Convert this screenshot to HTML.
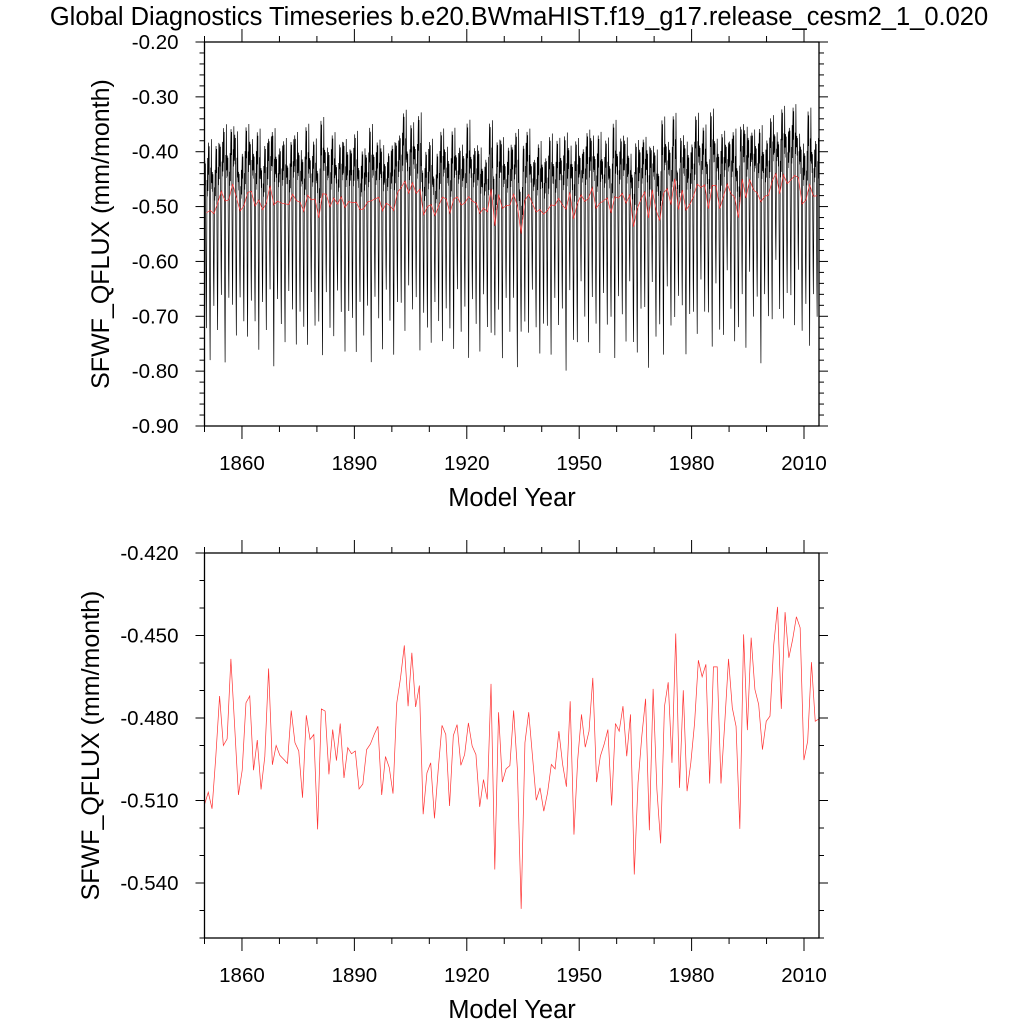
<!DOCTYPE html>
<html><head><meta charset="utf-8"><style>
body{margin:0;background:#fff;}
svg{display:block;font-family:"Liberation Sans",sans-serif;}
</style></head><body>
<svg id="chart" width="1024" height="1024" viewBox="0 0 1024 1024" xmlns="http://www.w3.org/2000/svg">
<text x="519" y="25" font-size="25.5" text-anchor="middle">Global Diagnostics Timeseries b.e20.BWmaHIST.f19_g17.release_cesm2_1_0.020</text>
<g id="top"></g>
<g id="bot"></g>
</svg>
<script>
const annualValues=[-0.5115,-0.507,-0.513,-0.494,-0.472,-0.490,-0.4876,-0.4585,-0.483,-0.508,-0.499,-0.4745,-0.472,-0.499,-0.488,-0.506,-0.494,-0.462,-0.497,-0.490,-0.4936,-0.495,-0.4965,-0.4773,-0.489,-0.492,-0.509,-0.479,-0.4878,-0.486,-0.5205,-0.4767,-0.4775,-0.5005,-0.4842,-0.4955,-0.482,-0.5018,-0.4908,-0.493,-0.492,-0.5058,-0.504,-0.4915,-0.4895,-0.486,-0.483,-0.508,-0.494,-0.498,-0.5075,-0.4745,-0.4654,-0.4536,-0.4757,-0.4563,-0.476,-0.4682,-0.515,-0.500,-0.4963,-0.5165,-0.4987,-0.4827,-0.486,-0.512,-0.4864,-0.4824,-0.4972,-0.4933,-0.4818,-0.4902,-0.4933,-0.5123,-0.5024,-0.5096,-0.4676,-0.5351,-0.4779,-0.5033,-0.4985,-0.4973,-0.4773,-0.4987,-0.5494,-0.489,-0.4779,-0.4939,-0.5099,-0.5054,-0.5139,-0.5072,-0.4969,-0.4985,-0.4848,-0.4969,-0.505,-0.4739,-0.5224,-0.4951,-0.4787,-0.4906,-0.4848,-0.4654,-0.5033,-0.4939,-0.4896,-0.4842,-0.5118,-0.482,-0.4848,-0.4757,-0.4939,-0.4787,-0.5369,-0.5036,-0.4866,-0.473,-0.5208,-0.4694,-0.506,-0.5256,-0.4759,-0.467,-0.4963,-0.4493,-0.5054,-0.4699,-0.5066,-0.4963,-0.4818,-0.459,-0.465,-0.4605,-0.5038,-0.4614,-0.4614,-0.5038,-0.4818,-0.4585,-0.4763,-0.483,-0.5203,-0.4496,-0.4844,-0.4508,-0.4696,-0.4751,-0.4915,-0.4812,-0.4793,-0.4533,-0.4396,-0.4767,-0.4415,-0.4581,-0.4515,-0.4432,-0.4472,-0.4953,-0.4884,-0.4597,-0.4812,-0.4803];
const seasonalCycle=[0.07,0.095,0.05,0.09,-0.05,-0.15,-0.21,-0.09,0.06,0.03,0.1,0.04];
const seasonalScale=[1.0,1.3,0.8,1.1,0.9,1.4,0.85,1.05,1.2,0.75,1.0,1.25,0.95];
const xTickLabels=[1860,1890,1920,1950,1980,2010];
const topYTicks=[-0.2,-0.3,-0.4,-0.5,-0.6,-0.7,-0.8,-0.9];
const botYTicks=[-0.42,-0.45,-0.48,-0.51,-0.54];
const startYear=1850;

const NS="http://www.w3.org/2000/svg";
function mk(p,tag,at){const e=document.createElementNS(NS,tag);for(const k in at)e.setAttribute(k,at[k]);p.appendChild(e);return e;}
const L=204.5,R=819;
const nY=annualValues.length;
const x0=startYear, x1=startYear+nY;
function xs(t){return L+(t-x0)/(x1-x0)*(R-L);}

function panel(g,T,B,ymax,ymin,yticks,minorStep,dec,monthly){
  const ys=v=>T+(ymax-v)/(ymax-ymin)*(B-T);
  if(monthly){
    let d="";
    for(let i=0;i<nY;i++){const sc=seasonalScale[i%seasonalScale.length];
      for(let m=0;m<12;m++){const v=annualValues[i]+seasonalCycle[m]*sc;
        d+=(d?"L":"M")+xs(startYear+i+m/12).toFixed(2)+","+ys(v).toFixed(2);}}
    const p=mk(g,"path",{d:d,fill:"none",stroke:"#000","stroke-width":"0.7"});
    
    
  }
  let d2="";
  for(let i=0;i<nY;i++){const t=monthly?startYear+i+0.5:startYear+i*(nY)/(nY-1);
    d2+=(d2?"L":"M")+xs(t).toFixed(2)+","+ys(annualValues[i]).toFixed(2);}
  const p2=mk(g,"path",{d:d2,fill:"none",stroke:"#f33","stroke-width":"0.7"});
  
  
  const f=mk(g,"rect",{x:L,y:T,width:R-L,height:B-T,fill:"none",stroke:"#000","stroke-width":"1.3"});
  
  
  const nmin=Math.round((ymax-ymin)/minorStep);
  for(let k=0;k<=nmin;k++){const v=ymax-k*minorStep;const y=ys(v);
    const isMaj=yticks.some(t=>Math.abs(t-v)<1e-6);const len=isMaj?9:5;
    mk(g,"line",{x1:L-len,x2:L,y1:y,y2:y,stroke:"#000","stroke-width":"1"});
    mk(g,"line",{x1:R,x2:R+len,y1:y,y2:y,stroke:"#000","stroke-width":"1"});}
  yticks.forEach(v=>{const t=mk(g,"text",{x:L-26,y:ys(v)+7,"font-size":"20.5","text-anchor":"end"});t.textContent=v.toFixed(dec);
    
    });
  for(let yr=1850;yr<=2015;yr+=10){const x=xs(yr);if(x<L-0.5||x>R+0.5)continue;
    const isMaj=xTickLabels.includes(yr);const len=isMaj?13:6;
    mk(g,"line",{x1:x,x2:x,y1:B,y2:B+len,stroke:"#000","stroke-width":"1"});
    mk(g,"line",{x1:x,x2:x,y1:T-len,y2:T,stroke:"#000","stroke-width":"1"});}
  xTickLabels.forEach(yr=>{const t=mk(g,"text",{x:xs(yr),y:B+44,"font-size":"20.5","text-anchor":"middle"});t.textContent=yr;
    
    });
  const xt=mk(g,"text",{x:512,y:B+80,"font-size":"25.5","text-anchor":"middle"});xt.textContent="Model Year";
  
  
  const cy=(T+B)/2;
  const xx=monthly?109:99;
  const yt=mk(g,"text",{x:xx,y:cy,"font-size":"25","text-anchor":"middle",transform:`rotate(-90 ${xx} ${cy})`});yt.textContent="SFWF_QFLUX (mm/month)";
  
  
}
panel(document.getElementById("top"),42,426,-0.2,-0.9,topYTicks,0.02,2,true);
panel(document.getElementById("bot"),553,938,-0.42,-0.56,botYTicks,0.01,3,false);
</script>
</body></html>
